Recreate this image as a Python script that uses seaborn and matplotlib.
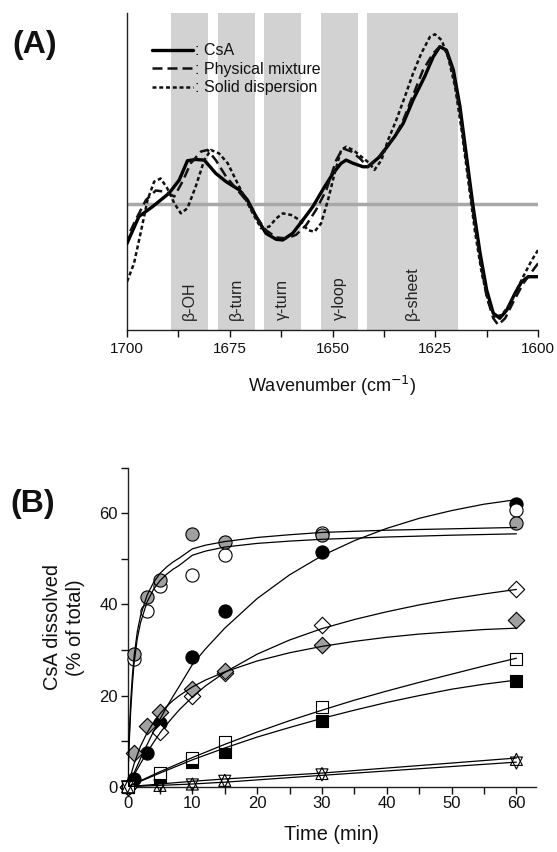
import matplotlib
matplotlib.use('Agg')
import matplotlib.pyplot as plt
import seaborn as sns
import pandas as pd
from matplotlib.ticker import MultipleLocator

# ---- Panel A: second-derivative FTIR spectra ----
csa_wn = [1700.0, 1697.1, 1693.8, 1689.8, 1687.3, 1685.3, 1683.3, 1681.2, 1678.4, 1675.9,
          1672.7, 1670.7, 1668.6, 1666.2, 1663.7, 1662.1, 1659.7, 1657.2, 1654.8, 1652.4,
          1649.9, 1647.9, 1646.7, 1645.0, 1642.6, 1641.4, 1638.5, 1636.1, 1634.9, 1632.8,
          1630.4, 1627.6, 1625.5, 1623.9, 1622.3, 1620.6, 1619.0, 1617.4, 1615.8, 1614.1,
          1612.5, 1610.9, 1609.3, 1607.6, 1605.6, 1604.0, 1602.4, 1600.0]
csa_val = [27.3, 35.8, 38.9, 43.1, 47.3, 53.4, 53.8, 53.6, 49.4, 46.8,
           44.2, 41.0, 35.8, 30.5, 28.6, 28.4, 30.5, 34.7, 38.9, 44.2,
           49.4, 52.6, 53.6, 52.6, 51.5, 51.5, 54.7, 58.9, 61.0, 65.2,
           72.6, 79.9, 86.2, 89.4, 88.3, 82.0, 70.5, 54.7, 38.9, 24.2,
           12.6, 5.3, 3.7, 6.3, 11.6, 15.2, 16.8, 16.8]

pm_wn = [1700.0, 1697.9, 1695.4, 1693.0, 1690.6, 1688.5, 1686.5, 1684.5, 1682.0, 1680.4,
         1678.4, 1675.9, 1673.5, 1671.1, 1668.6, 1666.2, 1663.7, 1661.3, 1658.9, 1656.4,
         1654.0, 1651.5, 1649.1, 1647.5, 1645.4, 1643.4, 1641.4, 1639.3, 1636.9, 1634.9,
         1632.8, 1630.4, 1628.0, 1625.5, 1623.9, 1622.3, 1620.6, 1619.0, 1617.4, 1615.8,
         1614.1, 1612.5, 1610.9, 1609.7, 1608.0, 1606.0, 1603.6, 1601.5, 1600.0]
pm_val = [28.9, 34.7, 41.0, 44.0, 43.6, 42.1, 46.8, 52.6, 56.3, 56.8,
          53.6, 48.4, 44.7, 41.0, 35.8, 31.5, 29.2, 28.9, 30.0, 33.1,
          37.9, 44.2, 53.6, 57.3, 56.3, 54.2, 51.5, 53.6, 57.8, 61.0,
          66.2, 74.1, 82.0, 87.3, 89.4, 87.8, 81.0, 68.3, 52.6, 36.8,
          22.1, 10.5, 3.7, 1.6, 3.7, 8.9, 14.7, 18.4, 21.0]

sd_wn = [1700.0, 1698.3, 1696.7, 1695.0, 1693.4, 1691.8, 1690.2, 1688.5, 1686.9, 1685.3,
         1683.3, 1681.2, 1679.6, 1677.6, 1675.5, 1673.5, 1671.5, 1669.4, 1667.4, 1665.4,
         1663.7, 1662.1, 1660.1, 1658.0, 1656.0, 1654.4, 1652.8, 1651.1, 1649.5, 1647.9,
         1646.7, 1645.0, 1643.0, 1641.0, 1639.8, 1638.1, 1636.5, 1634.5, 1632.4, 1630.4,
         1628.4, 1626.3, 1625.1, 1623.5, 1621.9, 1620.2, 1618.6, 1617.0, 1615.4, 1613.7,
         1612.1, 1610.5, 1608.9, 1607.2, 1605.2, 1603.2, 1601.5, 1600.0]
sd_val = [15.2, 21.0, 30.5, 41.0, 46.8, 47.8, 44.7, 40.0, 36.8, 38.4,
          45.2, 53.6, 56.8, 55.7, 52.6, 47.3, 42.1, 36.8, 32.1, 32.6,
          35.2, 36.8, 36.3, 34.7, 31.5, 31.0, 33.6, 41.0, 49.4, 56.8,
          57.8, 56.8, 54.7, 52.6, 50.5, 53.6, 59.9, 66.2, 73.6, 81.0,
          87.3, 92.5, 93.3, 91.5, 86.2, 76.8, 63.1, 47.3, 31.5, 17.9,
          8.9, 4.2, 4.7, 7.4, 12.6, 17.9, 22.1, 25.2]

baseline = 39.7
band_names = ['β-OH', 'β-turn', 'γ-turn', 'γ-loop', 'β-sheet']
band_lo = [1689.3, 1677.8, 1666.6, 1652.9, 1641.7]
band_hi = [1680.2, 1668.8, 1657.6, 1643.9, 1619.5]

# ---- Panel B: dissolution profiles ----
t_circ = [0, 1, 3, 5, 10, 15, 30, 60]
gray_circ = [0, 29.2, 41.6, 45.3, 55.5, 53.8, 55.2, 57.9]
open_circ = [0, 28.0, 38.5, 44.0, 46.5, 50.8, 55.7, 60.8]
black_circ = [0, 1.8, 7.5, 14.0, 28.5, 38.5, 51.5, 62.0]
t_gdia = [0, 1, 3, 5, 10, 15, 30, 60]
gray_dia = [0, 7.5, 13.3, 16.4, 21.5, 25.5, 31.0, 36.5]
t_rest = [0, 5, 10, 15, 30, 60]
open_dia = [0, 12.0, 20.0, 25.0, 35.5, 43.5]
open_sq = [0, 3.1, 6.3, 9.9, 17.6, 28.0]
black_sq = [0, 2.2, 5.5, 7.7, 14.4, 23.1]
up_tri = [0, 0.3, 0.6, 1.4, 2.9, 6.0]
down_tri = [0, 0.2, 0.4, 1.2, 2.6, 5.2]

# fitted curves
t_fast = [0, 0.25, 0.5, 0.75, 1, 1.5, 2, 3, 4, 5, 6, 7, 8, 10, 12, 15, 20, 25, 30, 40, 50, 60]
fit_gray_circ = [0, 11, 19, 24.5, 28.5, 34, 37.5, 42, 44.8, 46.8, 48.2, 49.3, 50.2, 52.2,
                 53.0, 53.8, 54.7, 55.3, 55.8, 56.3, 56.6, 56.9]
fit_open_circ = [0, 9.5, 17, 22.5, 27, 32.5, 36, 40.5, 43.3, 45.2, 46.6, 47.7, 48.6, 50.8,
                 51.7, 52.6, 53.4, 53.9, 54.3, 54.8, 55.2, 55.5]
t_fit = [0, 1, 2, 3, 4, 5, 6, 7, 8, 10, 12, 15, 20, 25, 30, 35, 40, 45, 50, 55, 60]
fit_black_circ = [0, 3, 6.2, 9.2, 12.1, 14.8, 17.4, 19.8, 22.1, 26.8, 30.2, 34.8, 41.3,
                  46.5, 50.7, 54.0, 56.7, 58.9, 60.6, 62.0, 63.0]
fit_open_dia = [0, 2.6, 5.1, 7.5, 9.7, 11.8, 13.6, 15.3, 16.9, 19.7, 22.1, 25.1, 29.1,
                32.2, 34.7, 36.7, 38.4, 39.9, 41.2, 42.3, 43.3]
fit_gray_dia = [0, 5.0, 8.9, 11.8, 14.1, 16.0, 17.6, 18.9, 20.0, 21.9, 23.4, 25.2, 27.6,
                29.4, 30.8, 31.9, 32.8, 33.5, 34.0, 34.5, 34.8]
t_slow = [0, 5, 10, 15, 20, 25, 30, 35, 40, 45, 50, 55, 60]
fit_open_sq = [0, 3.3, 6.4, 9.3, 12.0, 14.5, 16.8, 19.0, 21.0, 22.9, 24.7, 26.5, 28.2]
fit_black_sq = [0, 3.0, 5.9, 8.5, 10.9, 13.0, 15.0, 16.8, 18.5, 20.0, 21.4, 22.5, 23.4]
t_tri = [0, 10, 15, 30, 60]
fit_up_tri = [0, 1.2, 1.7, 3.0, 6.3]
fit_down_tri = [0, 0.6, 1.0, 2.5, 5.4]

sns.set_style('ticks')
plt.rcParams['font.family'] = ['Liberation Sans', 'DejaVu Sans']
plt.rcParams['text.color'] = '#111111'
plt.rcParams['axes.labelcolor'] = '#111111'
plt.rcParams['xtick.color'] = '#111111'
plt.rcParams['ytick.color'] = '#111111'
plt.rcParams['axes.edgecolor'] = '#222222'

fig = plt.figure(figsize=(5.57, 8.52), dpi=100)
ax1 = fig.add_axes([0.228, 0.6127, 0.738, 0.372])
ax2 = fig.add_axes([0.229, 0.0766, 0.733, 0.3744])

# ---------- panel A ----------
for lo, hi, name in zip(band_lo, band_hi, band_names):
    ax1.axvspan(hi, lo, color='#d2d2d2', lw=0, zorder=0)
    ax1.text((lo + hi) / 2, 3.2, name, rotation=90, ha='center', va='bottom',
             fontsize=11.5, color='#222222', zorder=1)
ax1.axhline(baseline, color='#a8a8a8', lw=2.5, zorder=1)

spec = pd.DataFrame({'wn': csa_wn, 'val': csa_val})
sns.lineplot(data=spec, x='wn', y='val', ax=ax1, color='black', lw=2.4,
             label=': CsA', zorder=3)
spec = pd.DataFrame({'wn': pm_wn, 'val': pm_val})
sns.lineplot(data=spec, x='wn', y='val', ax=ax1, color='#111111', lw=1.8,
             linestyle=(0, (4, 2)), label=': Physical mixture', zorder=3)
spec = pd.DataFrame({'wn': sd_wn, 'val': sd_val})
sns.lineplot(data=spec, x='wn', y='val', ax=ax1, color='#111111', lw=1.8,
             linestyle=(0, (1.6, 1.1)), label=': Solid dispersion', zorder=3)

ax1.set_xlim(1700, 1600)
ax1.set_ylim(0, 100)
ax1.xaxis.set_major_locator(MultipleLocator(25))
ax1.xaxis.set_minor_locator(MultipleLocator(12.5))
ax1.tick_params(axis='x', which='both', length=5, width=1, labelsize=11, direction='out')
ax1.set_yticks([])
ax1.set_xlabel('Wavenumber (cm$^{-1}$)', fontsize=13, labelpad=13)
ax1.set_ylabel('')
for s in ['top', 'right']:
    ax1.spines[s].set_visible(False)
for s in ['left', 'bottom']:
    ax1.spines[s].set_linewidth(1)
ax1.legend(loc='upper left', bbox_to_anchor=(0.045, 0.925), frameon=False,
           fontsize=11.5, handlelength=2.6, handletextpad=0.1, labelspacing=0.22,
           borderaxespad=0)
ax1.text(-0.28, 0.9, '(A)', transform=ax1.transAxes, fontsize=23, fontweight='bold',
         ha='left', va='center')

# ---------- panel B ----------
mk = dict(ax=ax2, edgecolor='black', linewidth=0.8, clip_on=False, zorder=4, legend=False)
sns.scatterplot(x=t_circ, y=black_circ, marker='o', s=90, color='black', **mk)
sns.scatterplot(x=t_circ, y=open_circ, marker='o', s=90, color='white', **mk)
sns.scatterplot(x=t_circ, y=gray_circ, marker='o', s=90, color='#a0a0a0', **mk)
sns.scatterplot(x=t_rest, y=open_dia, marker='D', s=70, color='white', **mk)
sns.scatterplot(x=t_gdia, y=gray_dia, marker='D', s=70, color='#a0a0a0', **mk)
sns.scatterplot(x=t_rest, y=black_sq, marker='s', s=70, color='black', **mk)
sns.scatterplot(x=t_rest, y=open_sq, marker='s', s=70, color='white', **mk)
sns.scatterplot(x=t_rest, y=up_tri, marker='^', s=75, color='none', **mk)
sns.scatterplot(x=t_rest, y=down_tri, marker='v', s=75, color='none', **mk)

fits = [(t_fast, fit_gray_circ), (t_fast, fit_open_circ), (t_fit, fit_black_circ),
        (t_fit, fit_open_dia), (t_fit, fit_gray_dia), (t_slow, fit_open_sq),
        (t_slow, fit_black_sq), (t_tri, fit_up_tri), (t_tri, fit_down_tri)]
for tx, fy in fits:
    sns.lineplot(x=tx, y=fy, ax=ax2, color='black', lw=0.9, zorder=5)

ax2.set_xlim(0, 63)
ax2.set_ylim(0, 70)
ax2.xaxis.set_major_locator(MultipleLocator(10))
ax2.xaxis.set_minor_locator(MultipleLocator(5))
ax2.yaxis.set_major_locator(MultipleLocator(20))
ax2.yaxis.set_minor_locator(MultipleLocator(10))
ax2.set_yticks([0, 20, 40, 60])
ax2.tick_params(which='both', length=5, width=1, labelsize=12, direction='out', pad=2)
ax2.set_xlabel('Time (min)', fontsize=14.4, labelpad=10)
ax2.set_ylabel('CsA dissolved\n(% of total)', fontsize=14.4, labelpad=10, linespacing=1.3)
for s in ['top', 'right']:
    ax2.spines[s].set_visible(False)
for s in ['left', 'bottom']:
    ax2.spines[s].set_linewidth(1)
ax2.text(-0.288, 0.886, '(B)', transform=ax2.transAxes, fontsize=23, fontweight='bold',
         ha='left', va='center')

fig.savefig('out.png', dpi=100)
plt.close(fig)
